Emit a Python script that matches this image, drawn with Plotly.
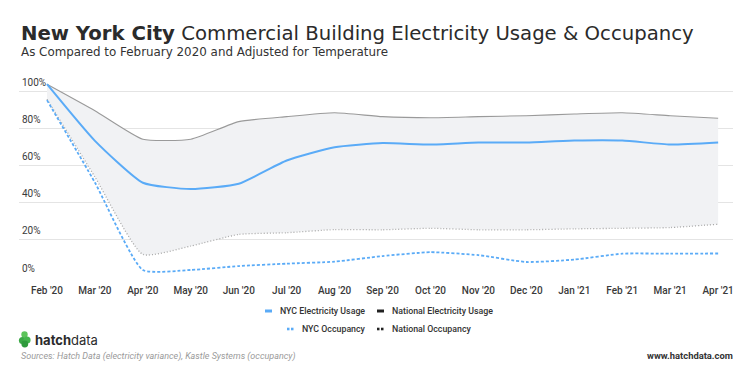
import plotly.graph_objects as go

months = ["Feb '20", "Mar '20", "Apr '20", "May '20", "Jun '20", "Jul '20", "Aug '20",
          "Sep '20", "Oct '20", "Nov '20", "Dec '20", "Jan '21", "Feb '21", "Mar '21", "Apr '21"]
nyc_elec = [104.1, 73.5, 50.9, 47.5, 50.4, 62.9, 70.1, 72.3, 71.5, 72.6, 72.6, 73.7, 73.7, 71.5, 72.6]
nat_elec = [104.1, 89.8, 74.4, 74.4, 83.9, 86.6, 88.7, 86.6, 86.0, 86.6, 87.1, 88.0, 88.7, 87.1, 85.7]
nyc_occ = [95.5, 51.0, 3.8, 3.8, 5.9, 7.2, 8.3, 11.3, 13.4, 11.8, 8.1, 9.4, 12.6, 12.6, 12.7]
nat_occ = [96.0, 54.0, 12.2, 16.7, 23.0, 23.9, 25.6, 25.5, 26.3, 25.5, 25.5, 26.0, 26.3, 26.7, 28.5]
y_ticks = [0, 20, 40, 60, 80, 100]
y_labels = ["0%", "20%", "40%", "60%", "80%", "100%"]
legend_names = ["NYC Electricity Usage", "National Electricity Usage", "NYC Occupancy", "National Occupancy"]

BLUE = "#5aabf7"
GRAY = "#9a9a9a"
FONT = "Roboto"
TITLE_FONT = "DejaVu Sans"

W, H = 755, 371
L, R, T, B = 19, 733, 77, 277


def px(x):
    return (x - L) / (R - L)


def py(y):
    return (B - y) / (B - T)


fig = go.Figure()
fig.add_trace(go.Scatter(x=months, y=nat_occ, mode="lines", name=legend_names[3],
                         line=dict(color="#a8a8a8", width=1.3, dash="1px,2px", shape="spline", smoothing=0.5)))
fig.add_trace(go.Scatter(x=months, y=nat_elec, mode="lines", name=legend_names[1],
                         line=dict(color=GRAY, width=1.1, shape="spline", smoothing=0.5),
                         fill="tonexty", fillcolor="#f1f2f4"))
fig.add_trace(go.Scatter(x=months, y=nyc_occ, mode="lines", name=legend_names[2],
                         line=dict(color=BLUE, width=1.8, dash="3px,2px", shape="spline", smoothing=0.5)))
fig.add_trace(go.Scatter(x=months, y=nyc_elec, mode="lines", name=legend_names[0],
                         line=dict(color=BLUE, width=2, shape="spline", smoothing=0.5)))

fig.update_layout(
    width=W, height=H,
    margin=dict(l=L, r=W - R, t=T, b=H - B),
    paper_bgcolor="white", plot_bgcolor="white",
    showlegend=False, hovermode=False,
    font=dict(family=FONT, color="#333"),
)
fig.update_xaxes(range=[-0.584, 14.31], showgrid=False, zeroline=False, showline=False,
                 ticks="", tickfont=dict(size=10, color="#3a3a3a", family=FONT, weight=500),
                 ticklabelstandoff=6)
fig.update_yaxes(range=[0, 108], tickvals=y_ticks, ticktext=y_labels,
                 ticklabelposition="inside top", ticklabelshift=-2,
                 showgrid=True, gridcolor="#e4e4e4", gridwidth=1.2,
                 zeroline=False, showline=False, ticks="",
                 tickfont=dict(size=10, color="#3a3a3a", family=FONT))

ann = []
ann.append(dict(text="<b>New York City</b> Commercial Building Electricity Usage &amp; Occupancy",
                x=px(19), y=py(33), xref="paper", yref="paper", xanchor="left", yanchor="middle",
                showarrow=False, font=dict(family=TITLE_FONT, size=19.7, color="#2b2b2b")))
ann.append(dict(text="As Compared to February 2020 and Adjusted for Temperature",
                x=px(19), y=py(52), xref="paper", yref="paper", xanchor="left", yanchor="middle",
                showarrow=False, font=dict(family=TITLE_FONT, size=11.9, color="#333")))

# legend built from legend_names
leg = [
    (legend_names[0], 265, 311, BLUE, "solid"),
    (legend_names[1], 377, 311, "#222", "solid"),
    (legend_names[2], 287, 329, BLUE, "dot"),
    (legend_names[3], 377, 329, "#222", "dot"),
]
shapes = []
for name, sx, sy, col, kind in leg:
    if kind == "solid":
        shapes.append(dict(type="line", xref="paper", yref="paper", x0=px(sx), x1=px(sx + 7),
                           y0=py(sy), y1=py(sy), line=dict(color=col, width=3)))
    else:
        for dx in (0, 4):
            shapes.append(dict(type="rect", xref="paper", yref="paper", x0=px(sx + dx), x1=px(sx + dx + 2.5),
                               y0=py(sy - 1.3), y1=py(sy + 1.3), fillcolor=col, line=dict(width=0)))
    ann.append(dict(text=name, x=px(sx + 13), y=py(sy), xref="paper", yref="paper",
                    xanchor="left", yanchor="middle", showarrow=False,
                    font=dict(family=FONT, size=8.8, color="#333", weight=500)))

# logo
for cx, cy, r, c in [(24.5, 334.5, 3.2, "#5cc45a"), (22.5, 340.5, 3.6, "#3aa845"), (27.0, 340.0, 3.6, "#44b54c"),
                     (24.8, 344.0, 3.4, "#2f9a3c")]:
    shapes.append(dict(type="circle", xref="paper", yref="paper", x0=px(cx - r), x1=px(cx + r),
                       y0=py(cy + r), y1=py(cy - r), fillcolor=c, line=dict(width=0)))
ann.append(dict(text="<b>hatch</b>data", x=px(33), y=py(339.5), xref="paper", yref="paper",
                xanchor="left", yanchor="middle", showarrow=False,
                font=dict(family="Inter", size=13, color="#2b2b2b")))
ann.append(dict(text="<i>Sources: Hatch Data (electricity variance), Kastle Systems (occupancy)</i>",
                x=px(19), y=py(356), xref="paper", yref="paper", xanchor="left", yanchor="middle",
                showarrow=False, font=dict(family=FONT, size=9, color="#9a9a9a")))
ann.append(dict(text="<b>www.hatchdata.com</b>", x=px(735), y=py(355), xref="paper", yref="paper",
                xanchor="right", yanchor="middle", showarrow=False,
                font=dict(family=FONT, size=9.4, color="#333")))

fig.update_layout(annotations=ann, shapes=shapes)
fig.write_html("out.html", config={"displayModeBar": False},
               post_script="document.body.style.margin='0';")
